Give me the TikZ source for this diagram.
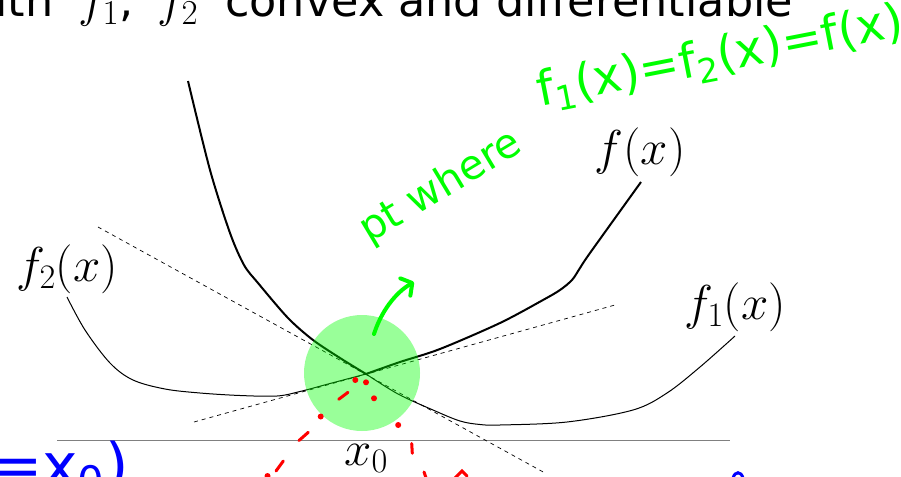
\RequirePackage{fix-cm}
\documentclass[tikz,border=0pt]{standalone}
\usepackage{fontspec}
\newfontfamily\slidefont{DejaVu Sans}
\newfontfamily\handfont{DejaVu Sans}
\usetikzlibrary{arrows.meta}
\definecolor{axisgray}{RGB}{128,128,128}
\newcommand{\bigmath}[1]{{\fontsize{50}{55}\selectfont$#1$}}
\begin{document}
\begin{tikzpicture}[x=1pt,y=-1pt,
  thinc/.style={line width=1pt, line join=round},
  thickc/.style={line width=2pt, line join=round},
  tang/.style={line width=0.7pt, dash pattern=on 4pt off 4pt},
  lbl/.style={inner sep=0pt, anchor=base, font=\fontsize{49}{54}\selectfont},
  redmark/.style={draw=red, line width=3pt, line cap=round},
  hand/.style={inner sep=0pt, anchor=base west, text=green},
  ]
\useasboundingbox (0,0) rectangle (901,476);
\fill[white] (0,0) rectangle (901,476);

% slide title (cut off)
\node[inner sep=0pt, anchor=base west, font=\slidefont\fontsize{44.5}{48}\selectfont] (title) at (-41,17)
  {with\hspace{25pt}\bigmath{f_1},\hspace{24pt}\bigmath{f_2}\hspace{27pt}convex and differentiable};

% axis
\coordinate (axL) at (57,440.5);
\coordinate (axR) at (730,440.5);
\draw[axisgray, line width=1.8pt] (axL) -- (axR);

% tangent lines
\coordinate (t1a) at (98,227);
\coordinate (t1b) at (545,473);
\coordinate (t2a) at (194,422);
\coordinate (t2b) at (615,305);
\draw[tang] (t1a) -- (t1b);
\draw[tang] (t2a) -- (t2b);

% f2 (thin, left part)
\draw[thinc] plot[smooth, tension=0.55] coordinates {(67,297) (85,330) (110,363) (133,380) (165,389) (200,393) (240,395.5) (277,396) (300,391.5) (330,383.5) (366,374)};
% f1 (thin, right part)
\draw[thinc] plot[smooth, tension=0.55] coordinates {(366,374) (398,394) (433,410) (460,421) (480,424.5) (500,425) (567,422) (633,410) (667,393) (700,367) (735,336)};
% f = max(f1,f2) (thick)
\draw[thickc] plot[smooth, tension=0.5] coordinates {(188,81) (210,170) (230,233) (244,265) (258,283) (288,318) (313,340) (340,358) (366,374)};
\draw[thickc] plot[smooth, tension=0.5] coordinates {(366,374) (400,362) (440,349) (500,323) (543,300) (560,290) (572,280) (580,268) (590,253) (641,182)};

% labels
\node[lbl] (lf)  at (640,164.5) {$f(x)$};
\node[lbl] (lf2) at (67,281)  {$f_2(x)$};
\node[lbl] (lf1) at (735,319.5) {$f_1(x)$};
\node[lbl] (lx0) at (366,465) {$x_0$};

% highlight circle
\fill[green, opacity=0.4] (362,373) circle[radius=58pt];

% green annotation
\coordinate (arS) at (374,334);
\coordinate (arE) at (414,282);
\draw[green, line width=4pt, line cap=round, -{Straight Barb[length=8pt,width=20pt,round]}]
  (arS) .. controls (381,312) and (395,293) .. (arE);
\node[hand, rotate=31, font=\handfont\fontsize{41}{44}\selectfont] (noteA) at (369,244) {pt where};
\node[hand, rotate=11, font=\handfont\fontsize{48}{52}\selectfont] (noteB) at (540,107)
  {f\textsubscript{1}(x)=f\textsubscript{2}(x)=f(x)};

% red marks
\fill[red] (355.3,380) circle[radius=3pt];
\fill[red] (366,382.3) circle[radius=3pt];
\fill[red] (374,398.3) circle[radius=3pt];
\fill[red] (320.7,416.5) circle[radius=3pt];
\fill[red] (398.2,425) circle[radius=3pt];
\fill[red] (267.5,476) circle[radius=3pt];
\draw[redmark] (338.7,399.3) -- (348,392.3);
\draw[redmark] (299,440.5) -- (308.3,432.3);
\draw[redmark] (276,471) -- (283.3,461);
\draw[redmark] (411.7,443.5) -- (412.3,453.3);
\draw[redmark] (424,472) -- (426,478);
\draw[redmark] (455,478) -- (462,471) -- (467,476);

% blue handwriting (cut off)
\node[inner sep=0pt, anchor=base west, text=blue, font=\handfont\fontsize{60}{64}\selectfont] (blue) at (-8,486)
  {=x\textsubscript{0})};
\draw[blue, line width=3pt, line cap=round] (733,478) .. controls (735,471) and (741,471) .. (743,478);
\end{tikzpicture}
\end{document}
